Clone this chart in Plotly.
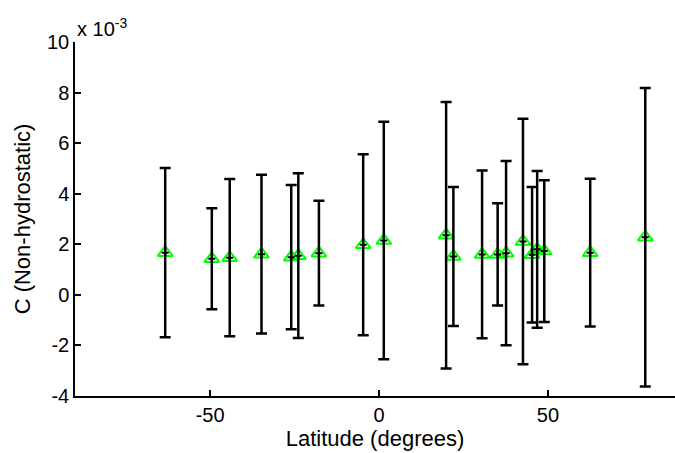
import plotly.graph_objects as go

latitude = [-63.3, -49.5, -44.2, -34.8, -26.0, -23.9, -17.8, -4.7, 1.4, 19.85,
            22.0, 30.5, 35.1, 37.6, 42.6, 45.3, 46.8, 48.9, 62.5, 78.8]
c_nonhydro = [1.67, 1.43, 1.47, 1.61, 1.49, 1.55, 1.65, 1.98, 2.15, 2.36,
              1.52, 1.60, 1.60, 1.65, 2.11, 1.59, 1.80, 1.73, 1.67, 2.28]
c_err = [3.35, 2.00, 3.11, 3.14, 2.85, 3.26, 2.07, 3.58, 4.70, 5.27,
         2.75, 3.32, 2.02, 3.64, 4.85, 2.68, 3.10, 2.80, 2.92, 5.90]
scale = 1e-3
y_vals = [v * scale for v in c_nonhydro]
e_vals = [v * scale for v in c_err]

y_ticks = [-4, -2, 0, 2, 4, 6, 8, 10]
x_ticks = [-50, 0, 50]

font = "Liberation Sans, Arial, sans-serif"

fig = go.Figure()
fig.add_trace(go.Scatter(
    x=latitude, y=y_vals, mode="markers",
    marker=dict(symbol="triangle-up-open", size=13, color="#00ff00",
                line=dict(width=2, color="#00ff00")),
    showlegend=False, hoverinfo="skip"))
fig.add_trace(go.Scatter(
    x=latitude, y=y_vals, mode="markers",
    marker=dict(symbol="cross-thin", size=5, color="black",
                line=dict(width=2, color="black")),
    error_y=dict(type="data", array=e_vals, visible=True, color="black",
                 thickness=2.5, width=5.5),
    showlegend=False))

fig.update_layout(
    width=675, height=453,
    margin=dict(l=75, r=0, t=42, b=57),
    paper_bgcolor="white", plot_bgcolor="white",
    font=dict(family=font, size=20, color="black"),
    xaxis=dict(range=[-90, 87.6], tickvals=x_ticks, ticktext=[str(v) for v in x_ticks],
               ticks="inside", ticklen=6, tickwidth=1.5, tickcolor="black",
               showline=True, linecolor="black", linewidth=1.5,
               showgrid=False, zeroline=False,
               title=dict(text="Latitude (degrees)", font=dict(size=22), standoff=5)),
    yaxis=dict(range=[-4 * scale, 10 * scale],
               tickvals=[v * scale for v in y_ticks], ticktext=[str(v) for v in y_ticks],
               ticks="inside", ticklen=6, tickwidth=1.5, tickcolor="black",
               showline=True, linecolor="black", linewidth=1.5,
               showgrid=False, zeroline=False,
               title=dict(text="C (Non-hydrostatic)", font=dict(size=22), standoff=10)),
    annotations=[dict(text="x 10<sup>-3</sup>", xref="paper", yref="paper",
                      x=0, y=1, xanchor="left", yanchor="bottom", showarrow=False,
                      font=dict(size=20))],
)

fig.write_html("out.html")
